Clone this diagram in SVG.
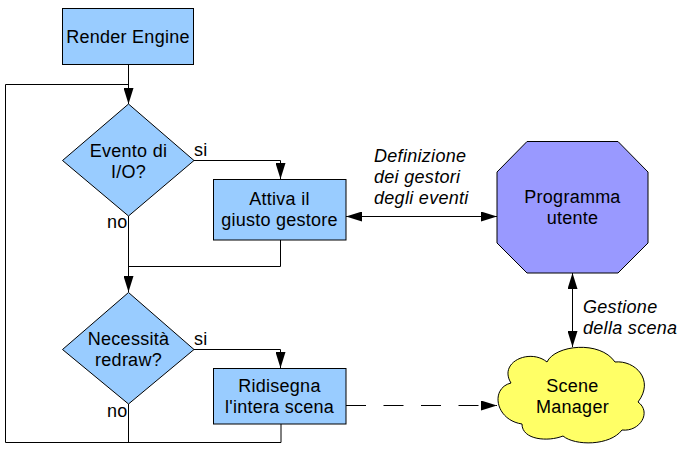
<svg xmlns="http://www.w3.org/2000/svg" width="680" height="451" viewBox="0 0 680 451">
<defs>
<marker id="arr" markerUnits="userSpaceOnUse" markerWidth="16" markerHeight="10" refX="16" refY="5" orient="auto-start-reverse">
<path d="M0,0 L16,5 L0,10 Z" fill="#000"/>
</marker>
<style>
.box{fill:#99ccff;stroke:#000;stroke-width:1}
.t{font-family:"Liberation Sans",Arial,sans-serif;font-size:18px;letter-spacing:0.25px;fill:#000;text-anchor:middle}
.l{font-family:"Liberation Sans",Arial,sans-serif;font-size:18px;letter-spacing:0.25px;fill:#000}
.i{font-family:"Liberation Sans",Arial,sans-serif;font-size:18px;letter-spacing:0.3px;font-style:italic;fill:#000}
.c{fill:none;stroke:#000;stroke-width:1}
</style>
</defs>
<rect width="680" height="451" fill="#fff"/>
<g id="connectors">
<path class="c" d="M128.5,65 V104" marker-end="url(#arr)"/>
<path class="c" d="M281,424 V442.5 H5.5 V84.5 H128.5"/>
<path class="c" d="M128.5,404 V442.5"/>
<path class="c" d="M194,160.5 H280.5 V179" marker-end="url(#arr)"/>
<path class="c" d="M128.5,216 V292" marker-end="url(#arr)"/>
<path class="c" d="M280.5,240 V266.5 H128.5"/>
<path class="c" d="M194,349.5 H280.5 V368" marker-end="url(#arr)"/>
<path class="c" d="M346,216.5 H497" marker-start="url(#arr)" marker-end="url(#arr)"/>
<path class="c" d="M572.5,273 V347" marker-start="url(#arr)" marker-end="url(#arr)"/>
<path class="c" d="M346,405.5 H497" stroke-dasharray="20 17.5" marker-end="url(#arr)"/>
<text class="l" x="194" y="156">si</text>
<text class="l" x="107" y="228">no</text>
<text class="l" x="194" y="345">si</text>
<text class="l" x="107" y="417">no</text>
<text class="i" x="374" y="162">Definizione</text>
<text class="i" x="374" y="183">dei gestori</text>
<text class="i" x="374" y="204">degli eventi</text>
<text class="i" x="583" y="313">Gestione</text>
<text class="i" x="583" y="334">della scena</text>
</g>
<g id="render-engine">
<rect class="box" x="62.5" y="8.5" width="131" height="56"/>
<text class="t" x="128" y="43">Render Engine</text>
</g>
<g id="evento-io">
<polygon class="box" points="128.5,104 194,160.5 128.5,216 62.5,160.5"/>
<text class="t" x="128.5" y="156.5">Evento di</text>
<text class="t" x="128.5" y="178">I/O?</text>
</g>
<g id="attiva-gestore">
<rect class="box" x="213.5" y="179.5" width="132.5" height="60.5"/>
<text class="t" x="279.5" y="205">Attiva il</text>
<text class="t" x="279.5" y="226">giusto gestore</text>
</g>
<g id="necessita-redraw">
<polygon class="box" points="128.5,292.5 194,349.5 128.5,404 62.5,349.5"/>
<text class="t" x="128.5" y="345">Necessità</text>
<text class="t" x="128.5" y="366">redraw?</text>
</g>
<g id="ridisegna">
<rect class="box" x="213.5" y="368.5" width="132.5" height="55.5"/>
<text class="t" x="279.5" y="392">Ridisegna</text>
<text class="t" x="279.5" y="413">l'intera scena</text>
</g>
<g id="programma-utente">
<polygon points="527,141.5 618,141.5 648,172 648,243 618,273 527,273 497,243 497,172" fill="#9999ff" stroke="#000" stroke-width="1"/>
<text class="t" x="572.5" y="203">Programma</text>
<text class="t" x="572.5" y="224">utente</text>
</g>
<g id="scene-manager">
<path d="M511,383 C498,362 530,348 547,362 C555,345 600,340 615,362 C635,360 655,380 638,402 C652,412 640,432 622,430 C610,446 575,446 563,436 C548,442 522,440 522,424 C495,420 490,388 511,383 Z" fill="#ffff66" stroke="#000" stroke-width="1"/>
<text class="t" x="572.5" y="392">Scene</text>
<text class="t" x="572.5" y="413">Manager</text>
</g>
</svg>
